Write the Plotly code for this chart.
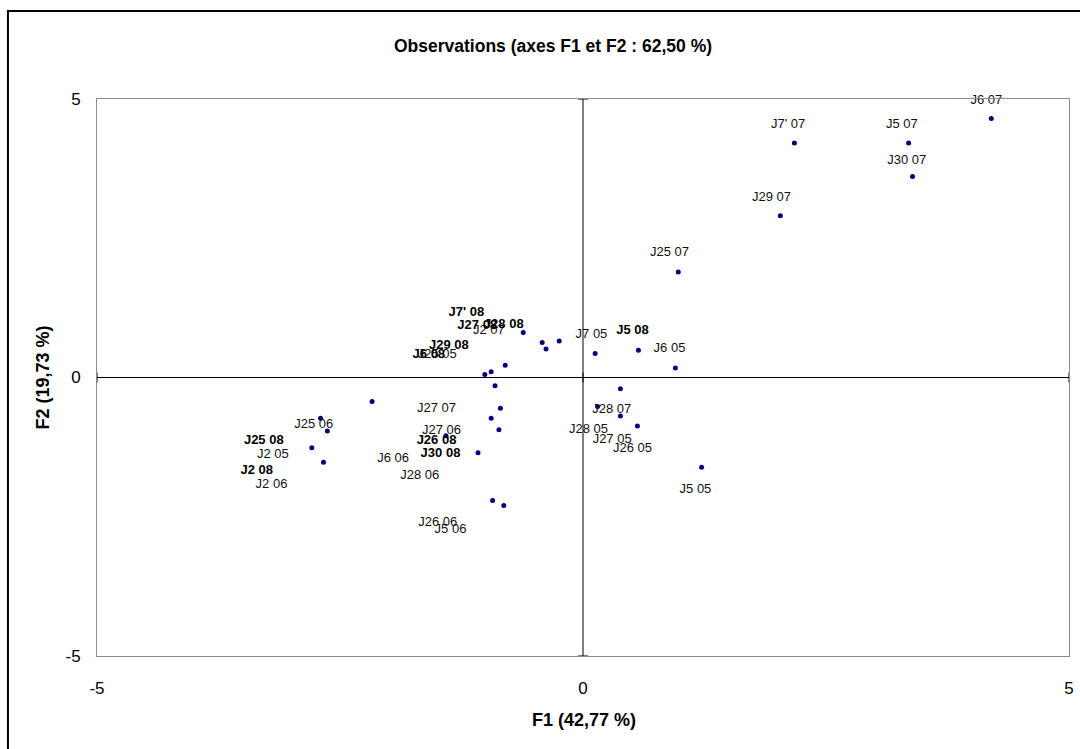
import plotly.graph_objects as go

# Observation names (F1/F2 factor map)
names = [
    "J7' 08", "J28 08", "J2 07", "J27 08", "J29 08", "J6 08", "J25 05",
    "J27 07", "J6 06", "J27 06", "J25 06", "J28 06", "J25 08", "J2 06",
    "J26 08", "J2 05", "J30 08", "J2 08", "J26 06", "J5 06",
    "J7 05", "J5 08", "J6 05", "J28 07", "J28 05", "J27 05", "J26 05", "J5 05",
    "J6 07", "J7' 07", "J5 07", "J30 07", "J29 07", "J25 07",
]

# Coordinates of each observation on F1 and F2
f1 = [
    -0.615, -0.42, -0.38, -0.245, -0.80, -0.945, -1.01,
    -0.905, -2.17, -0.85, -2.70, -0.945, -2.63, -0.865,
    -1.41, -2.79, -1.08, -2.67, -0.93, -0.815,
    0.125, 0.57, 0.95, 0.385, 0.15, 0.385, 0.56, 1.22,
    4.20, 2.175, 3.35, 3.39, 2.03, 0.98,
]
f2 = [
    0.81, 0.63, 0.51, 0.655, 0.22, 0.105, 0.055,
    -0.15, -0.43, -0.55, -0.73, -0.73, -0.96, -0.94,
    -1.045, -1.26, -1.35, -1.52, -2.21, -2.30,
    0.43, 0.49, 0.17, -0.20, -0.52, -0.69, -0.87, -1.61,
    4.65, 4.21, 4.21, 3.61, 2.905, 1.895,
]

# Where each observation's name is written
label_f1 = [
    -1.20, -0.815, -0.969, -1.088, -1.38, -1.586, -1.50,
    -1.507, -1.953, -1.456, -2.77, -1.679, -3.284, -3.205,
    -1.507, -3.19, -1.466, -3.357, -1.494, -1.363,
    0.087, 0.51, 0.89, 0.296, 0.057, 0.30, 0.51, 1.157,
    4.15, 2.11, 3.28, 3.33, 1.94, 0.89,
]
label_f2 = [
    1.158, 0.948, 0.846, 0.935, 0.571, 0.409, 0.409,
    -0.56, -1.463, -0.955, -0.853, -1.763, -1.14, -1.925,
    -1.135, -1.386, -1.373, -1.668, -2.60, -2.73,
    0.77, 0.84, 0.51, -0.578, -0.937, -1.117, -1.278, -2.014,
    4.97, 4.54, 4.54, 3.89, 3.22, 2.235,
]

axis_ticks = [-5, 0, 5]
axis_range = [-5, 5]
title_text = "Observations (axes F1 et F2 : 62,50 %)"
x_title = "F1 (42,77 %)"
y_title = "F2 (19,73 %)"

FONT = "Liberation Sans, Arial, sans-serif"

bold_idx = [i for i, n in enumerate(names) if n.endswith("08")]
plain_idx = [i for i, n in enumerate(names) if not n.endswith("08")]

fig = go.Figure()

fig.add_trace(go.Scatter(
    x=f1, y=f2, mode="markers",
    marker=dict(color="#000080", size=5, line=dict(width=0)),
    hovertext=names, showlegend=False,
))

fig.add_trace(go.Scatter(
    x=[label_f1[i] for i in plain_idx], y=[label_f2[i] for i in plain_idx],
    text=[names[i] for i in plain_idx], mode="text",
    textposition="middle center", cliponaxis=False,
    textfont=dict(family=FONT, size=13, color="#111111"),
    showlegend=False, hoverinfo="skip",
))

fig.add_trace(go.Scatter(
    x=[label_f1[i] for i in bold_idx], y=[label_f2[i] for i in bold_idx],
    text=[names[i] for i in bold_idx], mode="text",
    textposition="middle center", cliponaxis=False,
    textfont=dict(family=FONT, size=13, color="#000000", weight="bold"),
    showlegend=False, hoverinfo="skip",
))

# Axes crossing at the origin
fig.add_shape(type="line", xref="x", yref="y", x0=0, x1=0, y0=-5, y1=5,
              line=dict(color="black", width=1))
fig.add_shape(type="line", xref="x", yref="y", x0=-5, x1=5, y0=0, y1=0,
              line=dict(color="black", width=1))
# tick marks at the ends of the crossing axes
for t in axis_ticks:
    fig.add_shape(type="line", xref="x", yref="y", xsizemode="pixel", xanchor=0,
                  x0=-5, x1=5, y0=t, y1=t, line=dict(color="black", width=1))
    fig.add_shape(type="line", xref="x", yref="y", ysizemode="pixel", yanchor=0,
                  y0=-5, y1=5, x0=t, x1=t, line=dict(color="black", width=1))

# Outer chart frame
fig.add_shape(type="rect", xref="paper", yref="paper",
              x0=-0.0916, x1=1.03, y0=-0.25, y1=1.158,
              line=dict(color="black", width=2), layer="below")

fig.add_annotation(text=f"<b>{title_text}</b>", xref="paper", yref="paper",
                   x=0.469, y=1.0955, xanchor="center", yanchor="middle", showarrow=False,
                   font=dict(family=FONT, size=17.5, color="black"))
fig.add_annotation(text=f"<b>{x_title}</b>", xref="paper", yref="paper",
                   x=0.501, y=-0.1155, xanchor="center", yanchor="middle", showarrow=False,
                   font=dict(family=FONT, size=18, color="black"))
fig.add_annotation(text=f"<b>{y_title}</b>", xref="paper", yref="paper",
                   x=-0.0556, y=0.5, xanchor="center", yanchor="middle", showarrow=False,
                   textangle=-90,
                   font=dict(family=FONT, size=18, color="black"))

fig.update_xaxes(range=axis_range, tickvals=axis_ticks, ticktext=[str(v) for v in axis_ticks],
                 showgrid=False, zeroline=False, showline=True, mirror=True,
                 linecolor="#8c8c8c", linewidth=1, ticks="", ticklabelstandoff=17,
                 automargin=False,
                 tickfont=dict(family=FONT, size=17, color="black"))
fig.update_yaxes(range=axis_range, tickvals=axis_ticks, ticktext=[str(v) for v in axis_ticks],
                 showgrid=False, zeroline=False, showline=True, mirror=True,
                 linecolor="#8c8c8c", linewidth=1, ticks="", ticklabelstandoff=12,
                 automargin=False,
                 tickfont=dict(family=FONT, size=17, color="black"))

fig.update_layout(
    width=1080, height=749,
    margin=dict(l=97, r=11, t=99, b=93, autoexpand=False),
    paper_bgcolor="white", plot_bgcolor="white",
    font=dict(family=FONT),
)

fig.write_html("out.html")
